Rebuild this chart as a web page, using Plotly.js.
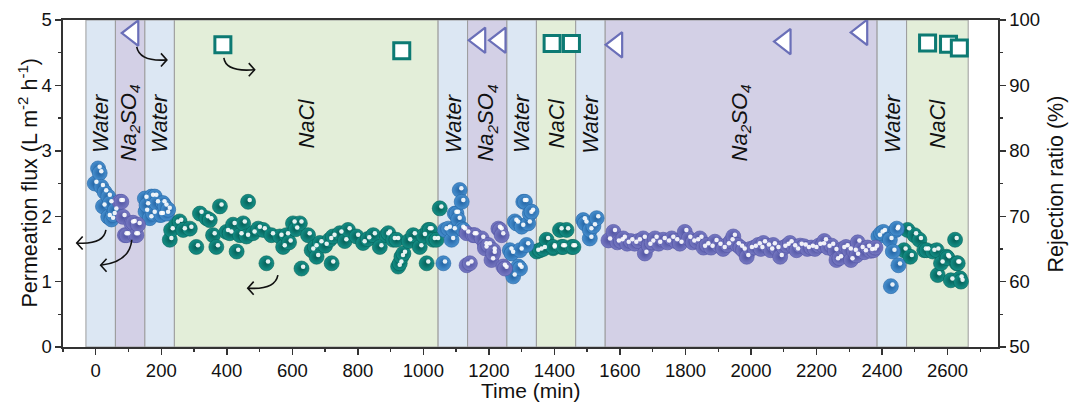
<!DOCTYPE html>
<html><head><meta charset="utf-8">
<script src="https://cdn.plot.ly/plotly-3.0.1.min.js"></script>
<style>html,body{margin:0;padding:0;background:#fff}#chart{width:1071px;height:403px}</style>
</head><body><div id="chart"></div>
<script>
// ---------- data ----------
const regionEdges = [-30, 60, 150, 240, 1045, 1135, 1255, 1345, 1465, 1555, 2385, 2475, 2663];
const regionKinds = ['Water','Na2SO4','Water','NaCl','Water','Na2SO4','Water','NaCl','Water','Na2SO4','Water','NaCl'];

const waterT = [-3,7,12,17,22,27,38,38,43,48,53,58,
  150,152,155,165,170,175,180,185,195,200,205,211,216,221,
  1061,1066,1076,1086,1091,1096,1101,1106,1111,1117,1117,1122,
  1264,1269,1274,1279,1284,1290,1295,1295,1300,1305,1310,1315,1320,1325,1330,
  1488,1493,1508,1508,1519,1529,
  2389,2397,2404,2424,2427,2433,2443,2445,2450];
const waterF = [2.50,2.73,2.66,2.45,2.15,2.37,2.30,1.99,2.20,1.95,2.02,2.09,
  2.27,2.07,2.17,1.97,2.30,2.04,2.30,2.20,2.02,2.02,2.20,2.15,2.04,2.10,
  1.28,1.79,1.81,1.64,1.79,2.04,2.04,1.95,2.40,2.22,1.81,1.79,
  1.48,1.43,1.08,1.92,1.89,1.23,1.48,1.20,1.84,2.22,2.22,1.56,1.89,2.04,2.07,
  1.94,1.89,1.66,1.79,1.85,1.97,
  1.69,1.74,1.76,1.64,0.93,1.46,1.79,1.81,1.25];

const sulfT = [73,78,83,89,94,109,114,119,124,129,
  1132,1132,1142,1152,1157,1178,1188,1188,1198,1208,1213,1213,1229,1234,1239,1244,1249,
  1565,1580,1592,1603,1610,1622,1633,1645,1656,1671,1676,1688,1697,1707,1718,1732,1745,1758,1770,1783,
  1798,1810,1822,1834,1844,1855,1865,1878,1890,1902,1915,1928,1939,1946,1958,1968,1976,1987,1998,2010,
  2022,2030,2038,2050,2060,2068,2079,2089,2100,2110,2119,2130,2139,2150,2162,2172,2184,2195,2207,2218,
  2224,2235,2246,2256,2261,2270,2280,2290,2300,2305,2315,2322,2326,2336,2346,2356,2365,2374,2380];
const sulfF = [2.22,2.22,1.99,1.71,1.71,1.89,1.90,1.71,1.71,1.87,
  1.74,1.25,1.28,1.71,1.71,1.66,1.56,1.51,1.56,1.33,1.48,1.43,1.81,1.79,1.71,1.23,1.20,
  1.63,1.76,1.60,1.62,1.66,1.58,1.62,1.58,1.62,1.66,1.43,1.55,1.60,1.66,1.58,1.64,1.60,1.66,1.62,1.58,
  1.76,1.66,1.60,1.62,1.66,1.52,1.56,1.52,1.61,1.55,1.50,1.56,1.62,1.69,1.56,1.52,1.48,1.38,1.50,1.52,
  1.56,1.50,1.59,1.54,1.48,1.56,1.50,1.38,1.52,1.55,1.59,1.53,1.48,1.55,1.54,1.50,1.52,1.50,1.55,1.56,
  1.62,1.52,1.55,1.47,1.33,1.36,1.50,1.53,1.48,1.33,1.46,1.40,1.60,1.50,1.45,1.52,1.47,1.48,1.52];

const naclT = [226,230,246,256,267,287,307,318,338,348,358,368,379,399,409,419,430,440,450,460,465,480,496,511,521,536,
  562,572,582,590,602,610,623,628,648,659,669,674,684,700,714,720,724,745,760,770,796,816,830,847,867,888,893,908,
  918,923,928,933,939,955,969,989,1000,1010,1015,1020,1030,1040,1050,
  1346,1356,1366,1376,1396,1396,1417,1422,1427,1437,1453,1458,
  2467,2478,2486,2499,2514,2529,2536,2555,2567,2570,2580,2597,2600,2610,2623,2628,2631,2638,2641];
const naclF = [1.64,1.79,1.89,1.92,1.79,1.81,1.53,2.04,1.97,1.94,1.71,1.53,2.15,1.76,1.74,1.87,1.46,1.71,1.89,1.69,2.22,1.74,1.81,1.79,1.28,1.71,
  1.69,1.53,1.71,1.60,1.89,1.80,1.89,1.20,1.71,1.48,1.53,1.38,1.59,1.55,1.64,1.28,1.69,1.74,1.62,1.79,1.69,1.59,1.65,1.71,1.53,1.71,1.74,1.64,
  1.64,1.23,1.28,1.38,1.43,1.62,1.71,1.53,1.70,1.28,1.79,1.79,1.64,1.64,2.12,
  1.46,1.48,1.50,1.64,1.51,1.53,1.79,1.53,1.53,1.79,1.53,1.53,
  1.48,1.79,1.38,1.71,1.64,1.48,1.48,1.46,1.48,1.10,1.28,1.38,1.36,1.02,1.64,1.28,1.28,1.05,1.00];

const sulfRejT = [113, 1172, 1234, 1590, 2104, 2338];
const sulfRejR = [98.0, 96.9, 96.9, 96.2, 96.7, 98.1];
const naclRejT = [388, 934, 1393, 1452, 2539, 2603, 2636];
const naclRejR = [96.2, 95.3, 96.4, 96.4, 96.5, 96.3, 95.7];

const xTickVals = [0,200,400,600,800,1000,1200,1400,1600,1800,2000,2200,2400,2600];
const xTitle = 'Time (min)';
const yTitle = 'Permeation flux (L m<sup>-2</sup> h<sup>-1</sup>)';
const y2Title = 'Rejection ratio (%)';

// ---------- styles ----------
const FONT = 'Liberation Sans, Arial, sans-serif';
const regionFill = {Water:'#dce7f3', Na2SO4:'#d3d0e6', NaCl:'#e3eed9'};
const regionText = {Water:'<i>Water</i>', Na2SO4:'<i>Na<sub>2</sub>SO<sub>4</sub></i>', NaCl:'<i>NaCl</i>'};
const xRange = [-100, 2754], yRange = [0, 5];
const pxPerMin = 935 / (xRange[1]-xRange[0]), pxPerFlux = 327 / 5;
const hx = 1.6 / pxPerMin, hy = 1.8 / pxPerFlux;

function spheres(t, f, mid, edge){
  return {x:t, y:f, type:'scatter', mode:'markers', hoverinfo:'skip',
    marker:{size:15, color:mid, gradient:{type:'radial', color:edge}, line:{width:0.6, color:edge}}};
}
function glints(t, f){
  return {x:t, y:f, xaxis:'x2', yaxis:'y3', type:'scatter', mode:'markers', hoverinfo:'skip',
    marker:{size:4.5, color:'rgba(255,255,255,0.9)', line:{width:0}}};
}

const traces = [
  spheres(naclT, naclF, '#149087', '#055f58'),
  spheres(waterT, waterF, '#4890cf', '#2263a3'),
  spheres(sulfT, sulfF, '#7779c2', '#5053a2'),
  glints(naclT, naclF), glints(waterT, waterF), glints(sulfT, sulfF),
  {x:sulfRejT, y:sulfRejR, yaxis:'y2', type:'scatter', mode:'markers', cliponaxis:false,
    marker:{symbol:'triangle-left', size:22, color:'#ffffff', line:{width:2.2, color:'#6a6fb8'}}},
  {x:naclRejT, y:naclRejR, yaxis:'y2', type:'scatter', mode:'markers', cliponaxis:false,
    marker:{symbol:'square', size:16, color:'#ffffff', line:{width:3, color:'#0d7a73'}}}
];

const shapes = [], annotations = [];
for (let i = 0; i < regionKinds.length; i++) {
  shapes.push({type:'rect', layer:'below', xref:'x', yref:'y', x0:regionEdges[i], x1:regionEdges[i+1], y0:0, y1:5,
    fillcolor:regionFill[regionKinds[i]], line:{color:'#9c9c9c', width:1}});
  annotations.push({x:(regionEdges[i]+regionEdges[i+1])/2, y:3.42, xref:'x', yref:'y', text:regionText[regionKinds[i]],
    textangle:-90, showarrow:false, font:{family:FONT, size:22, color:'#111'}, xanchor:'center', yanchor:'middle'});
}
// axis titles as annotations for exact placement
annotations.push({xref:'paper', yref:'paper', x:0.5, y:-0.1345, text:xTitle, showarrow:false,
  xanchor:'center', yanchor:'middle', font:{family:FONT, size:21, color:'#111'}});
annotations.push({xref:'paper', yref:'paper', x:-0.0385, y:0.5, text:yTitle, showarrow:false, textangle:-90,
  xanchor:'center', yanchor:'middle', font:{family:FONT, size:21.5, color:'#111'}});
annotations.push({xref:'paper', yref:'paper', x:1.062, y:0.5, text:y2Title, showarrow:false, textangle:-90,
  xanchor:'center', yanchor:'middle', font:{family:FONT, size:21.5, color:'#111'}});

// curved pointer arrows (decorations)
const arrowCurves = [
  'M125,4.59 Q134,4.36 217,4.39', 'M391,4.42 Q397,4.20 485,4.24',
  'M31,1.79 Q24,1.56 -58,1.59', 'M110,1.64 Q104,1.30 15,1.25', 'M556,1.10 Q547,0.87 464,0.90'];
const arrowHeads = [
  'M199,4.49 L217,4.39 L199,4.29', 'M467,4.34 L485,4.24 L467,4.14',
  'M-40,1.69 L-58,1.59 L-40,1.49', 'M33,1.35 L15,1.25 L33,1.15', 'M482,1.00 L464,0.90 L482,0.80'];
arrowCurves.concat(arrowHeads).forEach(p => shapes.push({type:'path', xref:'x', yref:'y', path:p, line:{color:'#111', width:1.6}}));

const axisLine = {showline:true, linecolor:'#333', linewidth:1.6, ticks:'outside', tickcolor:'#333', tickwidth:1.4, showgrid:false, zeroline:false};

const layout = {
  width:1071, height:403, margin:{l:63, r:73, t:20, b:56},
  paper_bgcolor:'#fff', plot_bgcolor:'#fff', showlegend:false,
  font:{family:FONT, size:18.5, color:'#111'},
  xaxis:Object.assign({}, axisLine, {range:xRange, mirror:true, tickvals:xTickVals, ticklen:6,
    minor:{dtick:100, tick0:0, ticks:'outside', ticklen:3, tickcolor:'#333'},
    tickfont:{family:FONT, size:18.5}}),
  yaxis:Object.assign({}, axisLine, {range:yRange, dtick:1, ticklen:6,
    minor:{dtick:0.5, ticks:'outside', ticklen:3, tickcolor:'#333'},
    tickfont:{family:FONT, size:18.5}}),
  yaxis2:Object.assign({}, axisLine, {range:[50,100], dtick:10, overlaying:'y', side:'right', ticklen:6,
    minor:{dtick:5, ticks:'outside', ticklen:3, tickcolor:'#333'},
    tickfont:{family:FONT, size:18.5}}),
  xaxis2:{overlaying:'x', range:[xRange[0]-hx, xRange[1]-hx], visible:false},
  yaxis3:{overlaying:'y', range:[yRange[0]-hy, yRange[1]-hy], visible:false},
  shapes:shapes, annotations:annotations
};
Plotly.newPlot('chart', traces, layout, {displayModeBar:false, staticPlot:true});
</script></body></html>
